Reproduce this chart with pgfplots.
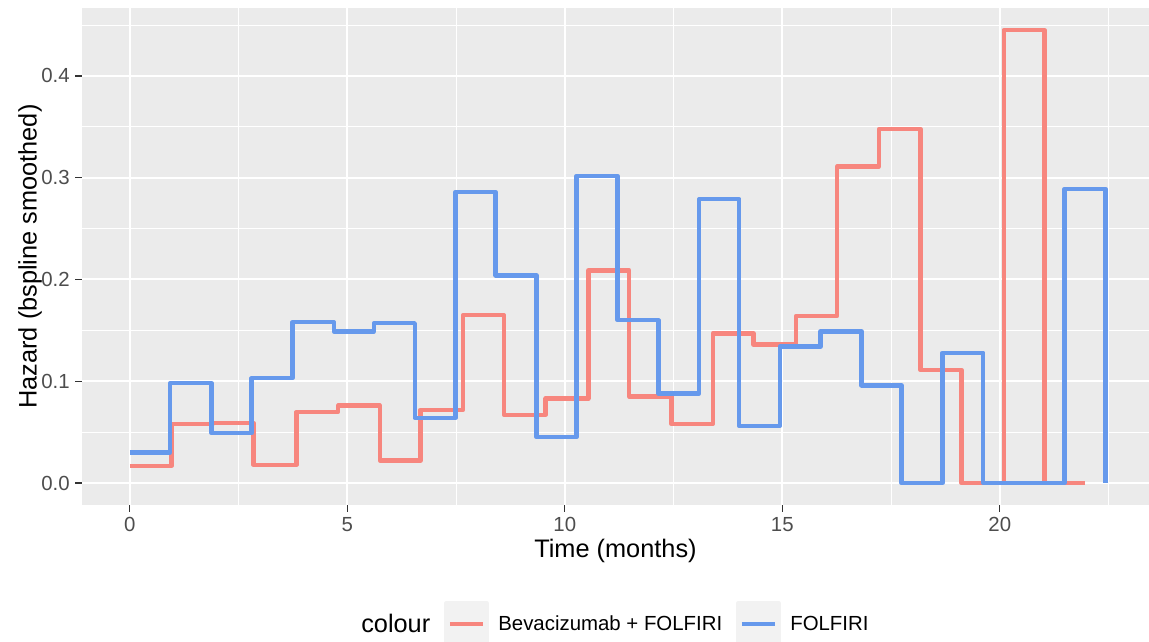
\documentclass[border=0pt]{standalone}
\usepackage{fontspec}
\setmainfont{Liberation Sans}
\usepackage{pgfplots}
\pgfplotsset{compat=1.18}
\definecolor{panel}{HTML}{EBEBEB}
\definecolor{keybg}{HTML}{F2F2F2}
\definecolor{ggred}{HTML}{F7867E}
\definecolor{ggblue}{HTML}{6699EC}
\definecolor{tickgray}{HTML}{4D4D4D}
\definecolor{tickmark}{HTML}{333333}

\begin{document}
\begin{tikzpicture}
% page = 1149 x 642 px at 0.75pt per px
\path[use as bounding box] (-61.5pt,-102.75pt) rectangle (800.25pt,378.75pt);
\begin{axis}[
    at={(0,0)}, anchor=south west,
    scale only axis,
    width=800.25pt, height=372.75pt,
    xmin=-1.1, xmax=23.43,
    ymin=-0.0216, ymax=0.4668,
    axis background/.style={fill=panel},
    axis line style={draw=none},
    xtick={0,5,10,15,20},
    minor xtick={2.5,7.5,12.5,17.5,22.5},
    ytick={0,0.1,0.2,0.3,0.4},
    minor ytick={0.05,0.15,0.25,0.35,0.45},
    grid=both,
    major grid style={white, line width=1.5pt},
    minor grid style={white, line width=0.75pt},
    xtick pos=bottom, ytick pos=left,
    tick align=outside,
    major tick length=5pt, minor tick length=0pt,
    major tick style={tickmark, line width=0.8pt},
    minor tick style={draw=none},
    /pgf/number format/assume math mode=true,
    tick label style={font=\fontsize{15.3}{18}\selectfont, text=tickgray, inner sep=0pt},
    xticklabel style={anchor=north, yshift=-4pt},
    yticklabel style={anchor=east, xshift=-4pt,
        /pgf/number format/.cd, fixed, fixed zerofill, precision=1},
    xlabel={Time (months)},
    ylabel={Hazard (bspline smoothed)},
    label style={font=\fontsize{19}{22}\selectfont, text=black},
    xlabel style={at={(axis description cs:0.5,0)}, anchor=center, yshift=-34.5pt},
    ylabel style={at={(axis description cs:0,0.5)}, anchor=center, rotate=0, yshift=39pt},
    legend columns=-1,
    legend style={at={(axis description cs:0,0)}, anchor=west,
        xshift=202.25pt, yshift=-89.25pt,
        draw=none, fill=none, inner sep=0pt,
        nodes={inner sep=0pt, anchor=west},
        font=\fontsize{15.3}{18}\selectfont,
        /tikz/every odd column/.append style={column sep=7pt},
        /tikz/every even column/.append style={column sep=10pt}},
    legend image code/.code={
        \fill[keybg] (0pt,-15.4pt) rectangle (30.75pt,15.4pt);
        \draw[#1, line width=3pt] (3pt,0pt) -- (27.75pt,0pt);
    },
]
\addlegendimage{empty legend}
\addlegendentry[font=\fontsize{19}{22}\selectfont]{colour}

\addplot[ggred, line width=3.3pt, line join=round, const plot] coordinates {
    (0,0.017) (0.96,0.058) (1.9,0.059) (2.84,0.018) (3.83,0.070)
    (4.79,0.076) (5.75,0.022) (6.68,0.072) (7.66,0.165) (8.6,0.067)
    (9.56,0.083) (10.54,0.209) (11.48,0.085) (12.45,0.058) (13.4,0.147)
    (14.34,0.136) (15.31,0.164) (16.26,0.311) (17.22,0.348) (18.18,0.111)
    (19.12,0) (20.09,0.445) (21.03,0) (21.95,0)
};
\addlegendentry{Bevacizumab + FOLFIRI}

\addplot[ggblue, line width=3.3pt, line join=round, const plot] coordinates {
    (0,0.030) (0.93,0.098) (1.88,0.049) (2.8,0.103) (3.74,0.158)
    (4.69,0.149) (5.61,0.157) (6.55,0.064) (7.49,0.286) (8.41,0.204)
    (9.35,0.045) (10.27,0.302) (11.21,0.160) (12.15,0.088) (13.09,0.279)
    (14.01,0.056) (14.94,0.134) (15.88,0.149) (16.82,0.096) (17.74,0)
    (18.68,0.128) (19.62,0) (21.49,0.289) (22.43,0)
};
\addlegendentry{FOLFIRI}
\end{axis}
\end{tikzpicture}
\end{document}
